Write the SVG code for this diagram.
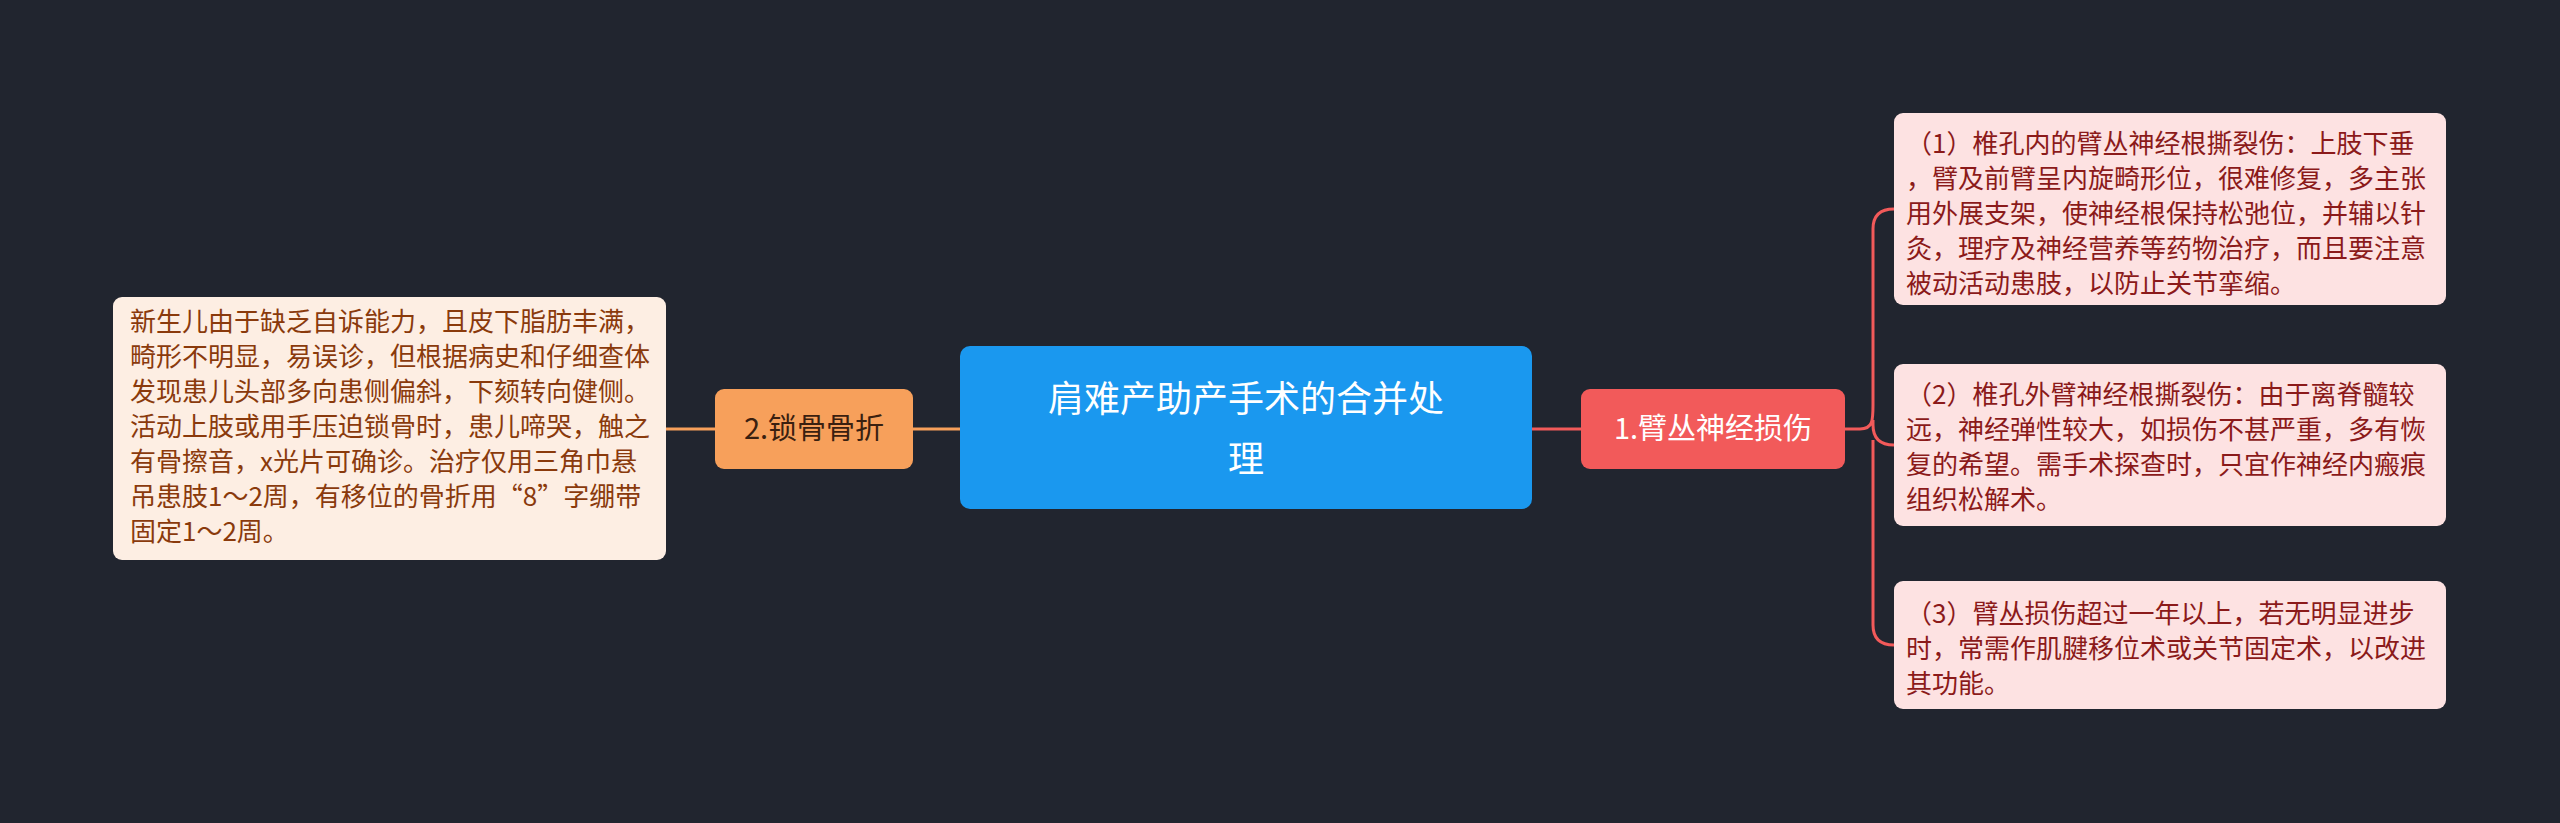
<svg xmlns="http://www.w3.org/2000/svg" width="2560" height="823" viewBox="0 0 2560 823">
<style>
text{font-family:"Noto Sans CJK SC","Noto Sans",sans-serif}
.leafR{fill:#fde2e2}
.tR{fill:#8b1a1a;font-size:26px}
.tL{fill:#8a3a0c;font-size:26px}
.con{fill:none;stroke-width:3}
</style>
<rect width="2560" height="823" fill="#21252f"/>
<g id="connectors">
<path class="con" stroke="#f7a05b" d="M960 429 H913 M715 429 H666"/>
<path class="con" stroke="#f25a5a" d="M1532 429 H1581 M1845 429 H1860 C1873 429 1873 420 1873 405 V229 Q1873 209 1894 209 M1873 420 V425 Q1873 445 1894 445 M1873 440 V625 Q1873 645 1894 645"/>
</g>
<g id="center"><rect x="960" y="346" width="572" height="163" rx="10" fill="#1a98ef"/>
<text x="1246" y="412" font-size="36" fill="#fff" text-anchor="middle">肩难产助产手术的合并处</text>
<text x="1246" y="472" font-size="36" fill="#fff" text-anchor="middle">理</text></g>
<g id="n2"><rect x="715" y="389" width="198" height="80" rx="9" fill="#f7a05b"/>
<text x="814" y="439" font-size="29" fill="#3a2010" text-anchor="middle">2.锁骨骨折</text></g>
<g id="n2leaf"><rect x="113" y="297" width="553" height="263" rx="9" fill="#fdeee3"/>
<text class="tL" x="130" y="331">新生儿由于缺乏自诉能力，且皮下脂肪丰满，</text>
<text class="tL" x="130" y="366">畸形不明显，易误诊，但根据病史和仔细查体</text>
<text class="tL" x="130" y="401">发现患儿头部多向患侧偏斜，下颏转向健侧。</text>
<text class="tL" x="130" y="436">活动上肢或用手压迫锁骨时，患儿啼哭，触之</text>
<text class="tL" x="130" y="471">有骨擦音，x光片可确诊。治疗仅用三角巾悬</text>
<text class="tL" x="130" y="506">吊患肢1～2周，有移位的骨折用“8”字绷带</text>
<text class="tL" x="130" y="541">固定1～2周。</text></g>
<g id="n1"><rect x="1581" y="389" width="264" height="80" rx="9" fill="#f25a5a"/>
<text x="1713" y="439" font-size="29" fill="#fff" text-anchor="middle">1.臂丛神经损伤</text></g>
<g id="r1"><rect class="leafR" x="1894" y="113" width="552" height="192" rx="9"/>
<text class="tR" x="1906" y="153">（1）椎孔内的臂丛神经根撕裂伤：上肢下垂</text>
<text class="tR" x="1906" y="188">，臂及前臂呈内旋畸形位，很难修复，多主张</text>
<text class="tR" x="1906" y="223">用外展支架，使神经根保持松弛位，并辅以针</text>
<text class="tR" x="1906" y="258">灸，理疗及神经营养等药物治疗，而且要注意</text>
<text class="tR" x="1906" y="293">被动活动患肢，以防止关节挛缩。</text></g>
<g id="r2"><rect class="leafR" x="1894" y="364" width="552" height="162" rx="9"/>
<text class="tR" x="1906" y="404">（2）椎孔外臂神经根撕裂伤：由于离脊髓较</text>
<text class="tR" x="1906" y="439">远，神经弹性较大，如损伤不甚严重，多有恢</text>
<text class="tR" x="1906" y="474">复的希望。需手术探查时，只宜作神经内瘢痕</text>
<text class="tR" x="1906" y="509">组织松解术。</text></g>
<g id="r3"><rect class="leafR" x="1894" y="581" width="552" height="128" rx="9"/>
<text class="tR" x="1906" y="623">（3）臂丛损伤超过一年以上，若无明显进步</text>
<text class="tR" x="1906" y="658">时，常需作肌腱移位术或关节固定术，以改进</text>
<text class="tR" x="1906" y="693">其功能。</text></g>
</svg>
